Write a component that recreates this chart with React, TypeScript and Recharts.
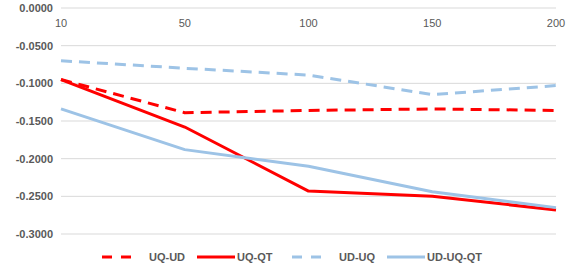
import React from 'react';
import { LineChart, Line, XAxis, YAxis, CartesianGrid, Legend } from 'recharts';

const categories = ['10', '50', '100', '150', '200'];
const uqUd = [-0.095, -0.139, -0.136, -0.134, -0.136];
const uqQt = [-0.095, -0.158, -0.243, -0.250, -0.268];
const udUq = [-0.070, -0.080, -0.089, -0.115, -0.103];
const udUqQt = [-0.134, -0.188, -0.210, -0.244, -0.265];
const yTicks = [0, -0.05, -0.1, -0.15, -0.2, -0.25, -0.3];

const data = categories.map((c, i) => ({
  cat: c,
  'UQ-UD': uqUd[i],
  'UQ-QT': uqQt[i],
  'UD-UQ': udUq[i],
  'UD-UQ-QT': udUqQt[i],
}));

const RED = '#FF0000';
const BLUE = '#9DC3E6';
const TEXT = '#595959';
const FONT = '"Liberation Sans", Arial, sans-serif';

const legendItems = [
  { name: 'UQ-UD', color: RED, dash: '10 9' },
  { name: 'UQ-QT', color: RED, dash: undefined },
  { name: 'UD-UQ', color: BLUE, dash: '10 9' },
  { name: 'UD-UQ-QT', color: BLUE, dash: undefined },
];

const LegendContent = () => (
  <div
    style={{
      display: 'flex',
      justifyContent: 'flex-start',
      paddingLeft: 102,
      paddingTop: 17,
      fontFamily: FONT,
      fontSize: 11,
      fontWeight: 'bold',
      color: TEXT,
    }}
  >
    {legendItems.map((it) => (
      <div key={it.name} style={{ display: 'flex', alignItems: 'center', width: 95, whiteSpace: 'nowrap' }}>
        <svg width={38} height={10} style={{ marginRight: it.dash ? 9 : 2 }}>
          <line x1={0} y1={5} x2={38} y2={5} stroke={it.color} strokeWidth={3} strokeDasharray={it.dash} />
        </svg>
        <span>{it.name}</span>
      </div>
    ))}
  </div>
);

export default function App() {
  return (
    <div style={{ position: 'absolute', left: 0, top: 0 }}>
      <LineChart width={566} height={274} data={data} margin={{ top: 8, right: 10, bottom: 8, left: 0 }}>
        <CartesianGrid vertical={false} stroke="#D9D9D9" />
        <XAxis
          dataKey="cat"
          orientation="top"
          mirror
          height={1}
          axisLine={false}
          tickLine={false}
          tick={{ fill: TEXT, fontSize: 11, fontFamily: FONT }}
          tickMargin={5}
          interval={0}
        />
        <YAxis
          width={61}
          domain={[-0.3, 0]}
          ticks={yTicks}
          axisLine={false}
          tickLine={false}
          tickFormatter={(v: number) => v.toFixed(4)}
          tick={{ fill: TEXT, fontSize: 11, fontFamily: FONT, fontWeight: 'bold' }}
        />
        <Legend
          verticalAlign="bottom"
          height={32}
          wrapperStyle={{ left: 0, width: 566 }}
          content={<LegendContent />}
        />
        <Line type="linear" dataKey="UQ-UD" stroke={RED} strokeWidth={3} strokeDasharray="11 7" strokeLinejoin="round" dot={false} isAnimationActive={false} />
        <Line type="linear" dataKey="UQ-QT" stroke={RED} strokeWidth={3} strokeLinejoin="round" dot={false} isAnimationActive={false} />
        <Line type="linear" dataKey="UD-UQ" stroke={BLUE} strokeWidth={3} strokeDasharray="11 7" strokeLinejoin="round" dot={false} isAnimationActive={false} />
        <Line type="linear" dataKey="UD-UQ-QT" stroke={BLUE} strokeWidth={3} strokeLinejoin="round" dot={false} isAnimationActive={false} />
      </LineChart>
    </div>
  );
}
